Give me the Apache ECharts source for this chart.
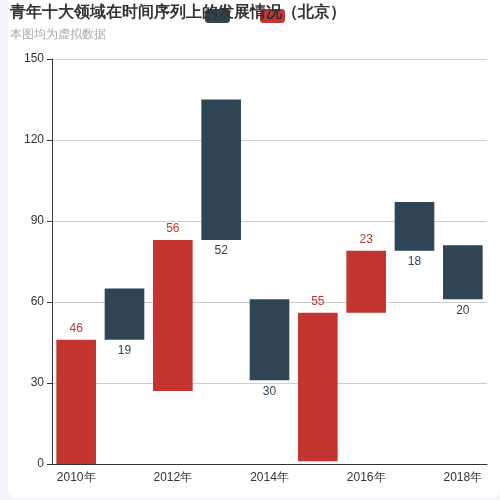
<!DOCTYPE html>
<html><head><meta charset="utf-8">
<script src="https://cdn.jsdelivr.net/npm/echarts@6/dist/echarts.min.js"></script>
<style>html,body{margin:0;background:#f3f4f9;}#wrap{position:absolute;left:8px;top:0;width:492px;height:498px;background:#fff;border-radius:0 0 8px 8px;}#c{position:absolute;left:-8px;top:0;width:500px;height:500px;}</style>
</head><body><div id="wrap"><div id="c"></div></div>
<script>
const categories = ['2010年','2011年','2012年','2013年','2014年','2015年','2016年','2017年','2018年'];
const baseValues = [0, 46, 27, 83, 31, 1, 56, 79, 61];
const redValues = [46, '-', 56, '-', '-', 55, 23, '-', '-'];
const darkValues = ['-', 19, '-', 52, 30, '-', '-', 18, 20];
const yTicks = {min: 0, max: 150, interval: 30};
const chart = echarts.init(document.getElementById('c'));
chart.setOption({
  animation: false,
  title: {text: '青年十大领域在时间序列上的发展情况（北京）', subtext: '本图均为虚拟数据', left: 5, top: 0,
    textStyle: {fontSize: 16, fontWeight: 'bold', color: '#333'}, subtextStyle: {fontSize: 12, color: '#aaa'}, itemGap: 8},
  legend: {left: 200, top: 4, itemGap: 30, itemWidth: 25, itemHeight: 14, formatter: () => '', data: ['下降', '上升']},
  grid: {left: 52, right: 13, top: 59, bottom: 36},
  xAxis: {type: 'category', data: categories,
    axisLine: {lineStyle: {color: '#333'}},
    axisTick: {alignWithLabel: true, interval: (i) => i % 2 === 1, lineStyle: {color: '#333'}},
    axisLabel: {interval: 1, color: '#333', fontSize: 12}},
  yAxis: {type: 'value', min: yTicks.min, max: yTicks.max, interval: yTicks.interval,
    axisLine: {show: true, lineStyle: {color: '#333'}}, axisTick: {show: true, lineStyle: {color: '#333'}},
    axisLabel: {color: '#333'}, splitLine: {lineStyle: {color: '#ccc'}}},
  series: [
    {name: 'base', type: 'bar', stack: 'all', barWidth: '82%', itemStyle: {color: 'transparent'}, data: baseValues, silent: true},
    {name: '上升', type: 'bar', stack: 'all', itemStyle: {color: '#c23531'}, data: redValues,
      label: {show: true, position: 'top', color: '#c23531', fontSize: 12}},
    {name: '下降', type: 'bar', stack: 'all', itemStyle: {color: '#2f4554'}, data: darkValues,
      label: {show: true, position: 'bottom', color: '#2f4554', fontSize: 12}}
  ]
});
</script></body></html>
